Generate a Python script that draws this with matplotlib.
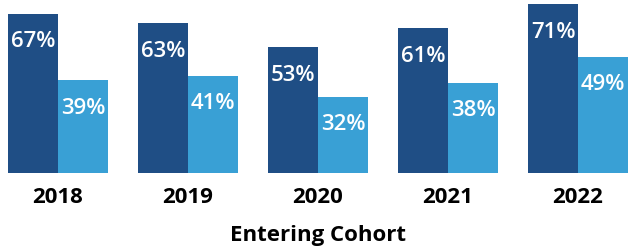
import matplotlib
matplotlib.use("Agg")
import matplotlib.pyplot as plt
import numpy as np

cohorts = ["2018", "2019", "2020", "2021", "2022"]
series_a = [67, 63, 53, 61, 71]
series_b = [39, 41, 32, 38, 49]

dark = "#1f4e85"
light = "#39a0d5"

fig = plt.figure(figsize=(6.28, 2.48), dpi=100)
ax = fig.add_axes([0, 75 / 248, 1, 173 / 248])

x = np.arange(len(cohorts))
w = 50 / 130
bars_a = ax.bar(x - w / 2, series_a, width=w, color=dark)
bars_b = ax.bar(x + w / 2, series_b, width=w, color=light)

px_per_unit = 173 / 72.8
for bars, vals in ((bars_a, series_a), (bars_b, series_b)):
    for b, v in zip(bars, vals):
        ax.annotate(f"{v}%", (b.get_x() + b.get_width() / 2, v),
                    xytext=(0, -28 * 72 / 100), textcoords="offset points",
                    ha="center", va="center", color="white",
                    fontsize=16, fontweight="semibold", family="Open Sans")

ax.set_xlim(-58 / 130, (628 - 58) / 130)
ax.set_ylim(0, 72.8)
ax.set_xticks(x)
ax.set_xticklabels(cohorts, fontsize=16, fontweight="bold", family="Open Sans")
ax.tick_params(axis="x", length=0, pad=10)
ax.set_yticks([])
for s in ax.spines.values():
    s.set_visible(False)

fig.text(318 / 628, 1 - 236 / 248, "Entering Cohort", ha="center", va="center",
         fontsize=16, fontweight="bold", family="Open Sans")

fig.savefig("out.png", dpi=100)
